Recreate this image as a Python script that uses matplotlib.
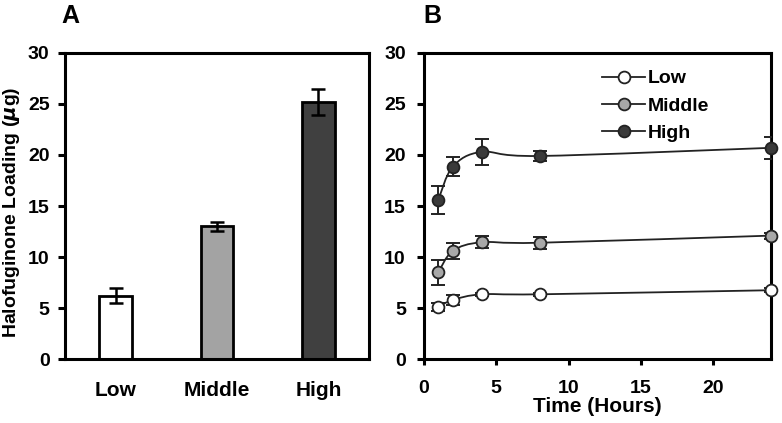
import matplotlib.pyplot as plt
import numpy as np
from matplotlib.path import Path
from matplotlib.patches import PathPatch
from matplotlib.lines import Line2D

plt.rcParams['font.family'] = ['Liberation Sans', 'DejaVu Sans']
plt.rcParams['font.weight'] = 'bold'

# panel A
groups = ['Low', 'Middle', 'High']
loading = [6.2, 13.0, 25.2]
loading_err = [0.75, 0.4, 1.3]
bar_colors = ['white', '#a3a3a3', '#404040']

# panel B
hours = [1, 2, 4, 8, 24]
low_vals = [5.1, 5.8, 6.35, 6.35, 6.75]
low_err = [0.4, 0.5, 0.15, 0.15, 0.2]
mid_vals = [8.5, 10.6, 11.45, 11.4, 12.1]
mid_err = [1.2, 0.8, 0.6, 0.6, 0.3]
high_vals = [15.6, 18.85, 20.3, 19.9, 20.7]
high_err = [1.4, 0.95, 1.25, 0.5, 1.1]
marker_colors = ['white', '#a8a8a8', '#3a3a3a']

LW = 2.2


def smooth_path(x, y):
    # excel-like smoothed line through the points (bezier segments)
    pts = np.column_stack([x, y]).astype(float)
    n = len(pts)
    verts = [pts[0]]
    codes = [Path.MOVETO]
    for i in range(n - 1):
        p0 = pts[max(i - 1, 0)]
        p1 = pts[i]
        p2 = pts[i + 1]
        p3 = pts[min(i + 2, n - 1)]
        c1 = p1 + (p2 - p0) / 6
        c2 = p2 - (p3 - p1) / 6
        verts += [c1, c2, p2]
        codes += [Path.CURVE4] * 3
    return Path(verts, codes)


def style_spines(ax):
    for s in ax.spines.values():
        s.set_linewidth(LW)
        s.set_color('black')


fig = plt.figure(figsize=(7.82, 4.23), dpi=100)
axA = fig.add_axes([0.083, 0.151, 0.389, 0.724])
axB = fig.add_axes([0.542, 0.151, 0.444, 0.724])

# ---- A ----
xpos = np.arange(1, len(groups) + 1)
axA.bar(xpos, loading, width=0.32, color=bar_colors, edgecolor='black',
        linewidth=2, zorder=2)
axA.errorbar(xpos, loading, yerr=loading_err, fmt='none', ecolor='black',
             elinewidth=1.8, capsize=5, capthick=1.8, zorder=3)
axA.set_xlim(0.5, 3.5)
axA.set_ylim(0, 30)
axA.set_yticks(range(0, 31, 5))
axA.set_xticks(xpos)
axA.set_xticklabels(groups, fontsize=15, fontweight='bold')
axA.tick_params(axis='x', length=0, pad=16)
axA.tick_params(axis='y', length=5, width=LW, labelsize=14, pad=6)
axA.set_ylabel(r'Halofuginone Loading ($\mathbfit{\mu}$g)', fontsize=14,
               fontweight='bold')
axA.yaxis.set_label_coords(-0.141, 0.48)
style_spines(axA)
fig.text(0.079, 0.946, 'A', fontsize=18, fontweight='bold')

# ---- B ----
series = [(low_vals, low_err, 'Low'), (mid_vals, mid_err, 'Middle'),
          (high_vals, high_err, 'High')]
handles = []
for (vals, err, name), mc in zip(series, marker_colors):
    axB.add_patch(PathPatch(smooth_path(hours, vals), facecolor='none',
                            edgecolor='#222222', linewidth=1.3, zorder=2))
    axB.errorbar(hours, vals, yerr=err, fmt='none', ecolor='#222222',
                 elinewidth=1.4, capsize=5, capthick=1.4, zorder=3)
    axB.plot(hours, vals, 'o', ms=8.5, mfc=mc, mec='#222222', mew=1.3,
             zorder=4, clip_on=False)
    handles.append(Line2D([], [], color='#222222', lw=1.3, marker='o', ms=8.5,
                          mfc=mc, mec='#222222', mew=1.3, label=name))

axB.set_xlim(0, 24)
axB.set_ylim(0, 30)
axB.set_xticks(range(0, 21, 5))
axB.set_yticks(range(0, 31, 5))
axB.tick_params(axis='x', length=4, width=LW, labelsize=14, pad=11)
axB.tick_params(axis='y', length=5, width=LW, labelsize=14, pad=8)
axB.set_xlabel('Time (Hours)', fontsize=15, fontweight='bold', labelpad=0)
style_spines(axB)
axB.legend(handles=handles, loc='upper left', bbox_to_anchor=(0.514, 0.945),
           frameon=False, fontsize=14, handlelength=2.2, handletextpad=0.15,
           labelspacing=0.5, borderaxespad=0, borderpad=0)
fig.text(0.542, 0.946, 'B', fontsize=18, fontweight='bold')

fig.savefig('out.png', dpi=100)
